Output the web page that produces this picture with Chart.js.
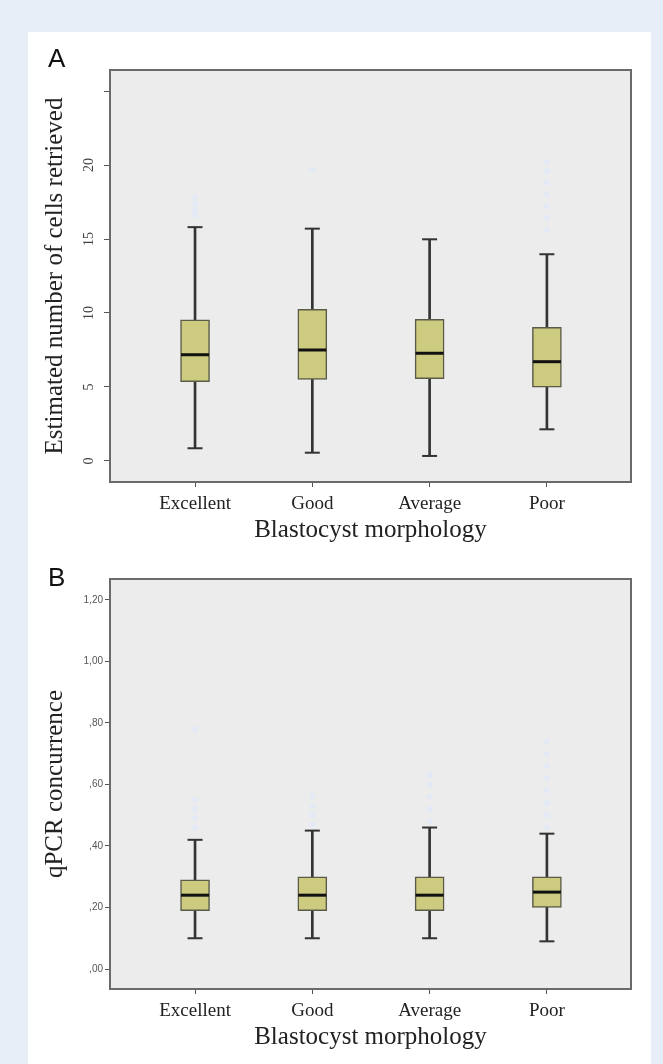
<!DOCTYPE html>
<html>
<head>
<meta charset="utf-8">
<script src="https://cdn.jsdelivr.net/npm/chart.js@4/dist/chart.umd.min.js"></script>
<style>
  html, body { margin: 0; padding: 0; }
  body { width: 663px; height: 1064px; background: #e7eef8; position: relative; overflow: hidden; }
  #panel { position: absolute; left: 28px; top: 32px; width: 623px; height: 1040px; background: #fff; }
  canvas { position: absolute; left: 28px; }
  #chartA { top: 32px; }
  #chartB { top: 557px; }
  .letter { position: absolute; left: 48px; font: 26px/1 "Liberation Sans", Arial, sans-serif; color: #111; }
</style>
</head>
<body>
<div id="panel"></div>
<canvas id="chartA" width="623" height="525"></canvas>
<canvas id="chartB" width="623" height="507"></canvas>
<div class="letter" style="top:45px">A</div>
<div class="letter" style="top:564px">B</div>
<script>
const SERIF = "'Liberation Serif', 'Times New Roman', serif";
const SANS = "'Liberation Sans', Arial, sans-serif";

const categories = ["Excellent", "Good", "Average", "Poor"];

// A: estimated number of cells retrieved
const cellsMin = [0.86, 0.56, 0.34, 2.14];
const cellsQ1 = [5.36, 5.52, 5.56, 4.98];
const cellsMedian = [7.18, 7.5, 7.28, 6.71];
const cellsQ3 = [9.53, 10.25, 9.57, 9.03];
const cellsMax = [15.8, 15.7, 14.98, 13.97];
const cellsOutliers = [[16.6, 17.0, 17.4, 17.8], [19.7], [], [15.6, 16.4, 17.2, 18.0, 18.8, 19.6, 20.2]];
const cellsTicks = [0, 5, 10, 15, 20, 25];

// B: qPCR concurrence
const qpcrMin = [0.10, 0.10, 0.10, 0.09];
const qpcrQ1 = [0.19, 0.19, 0.19, 0.20];
const qpcrMedian = [0.24, 0.24, 0.24, 0.25];
const qpcrQ3 = [0.29, 0.30, 0.30, 0.30];
const qpcrMax = [0.42, 0.45, 0.46, 0.44];
const qpcrOutliers = [[0.46, 0.49, 0.52, 0.55, 0.78], [0.47, 0.50, 0.53, 0.56], [0.48, 0.52, 0.56, 0.60, 0.63], [0.46, 0.50, 0.54, 0.58, 0.62, 0.66, 0.70, 0.74]];
const qpcrTicks = [0, 0.2, 0.4, 0.6, 0.8, 1.0, 1.2];

const plotFrame = {
  id: "plotFrame",
  beforeDraw(chart) {
    const { ctx, chartArea: a } = chart;
    ctx.save();
    ctx.fillStyle = "#ececec";
    ctx.fillRect(a.left, a.top, a.width, a.height);
    ctx.restore();
  },
  afterDraw(chart) {
    const { ctx, chartArea: a } = chart;
    ctx.save();
    ctx.strokeStyle = "#6a6a6a";
    ctx.lineWidth = 2;
    ctx.strokeRect(a.left, a.top, a.width, a.height);
    ctx.restore();
  },
};

const TICK_GRID = { drawOnChartArea: false, offset: false, tickLength: 6, color: "#555", lineWidth: 1 };

function boxChart(id, s) {
  const idx = categories.map((c, i) => i + 1);
  const caps = [];
  idx.forEach((x, i) => { caps.push({ x, y: s.min[i] }, { x, y: s.max[i] }); });
  const outliers = [];
  s.outliers.forEach((list, i) => list.forEach((v) => outliers.push({ x: i + 1, y: v })));

  return new Chart(document.getElementById(id), {
    type: "bar",
    data: {
      datasets: [
        {
          type: "line",
          data: idx.map((x, i) => ({ x, y: s.median[i] })),
          showLine: false,
          pointStyle: "line",
          pointRadius: 14,
          pointBorderWidth: 3,
          pointBorderColor: "#111",
          order: 0,
        },
        {
          type: "line",
          data: caps,
          showLine: false,
          pointStyle: "line",
          pointRadius: 7.5,
          pointBorderWidth: 2,
          pointBorderColor: "#333",
          order: 0,
        },
        {
          data: idx.map((x, i) => ({ x, y: [s.q1[i], s.q3[i]] })),
          backgroundColor: "#cccb80",
          borderColor: "#5b5a48",
          borderWidth: 1.5,
          borderSkipped: false,
          barThickness: 29,
          grouped: false,
          order: 1,
        },
        {
          data: idx.map((x, i) => ({ x, y: [s.min[i], s.max[i]] })),
          backgroundColor: "#333",
          borderWidth: 0,
          barThickness: 2,
          grouped: false,
          order: 2,
        },
        {
          type: "line",
          data: outliers,
          showLine: false,
          pointStyle: "circle",
          pointRadius: 3,
          pointBorderWidth: 0,
          pointBackgroundColor: "rgba(226,234,247,0.85)",
          order: 3,
        },
      ],
    },
    options: {
      responsive: false,
      devicePixelRatio: 1,
      animation: false,
      events: [],
      layout: { padding: { top: s.padTop, right: 20, left: 0, bottom: 0 } },
      plugins: { legend: { display: false }, tooltip: { enabled: false } },
      scales: {
        x: {
          type: "linear",
          min: 0.275,
          max: 4.717,
          offset: false,
          afterBuildTicks: (sc) => { sc.ticks = idx.map((v) => ({ value: v })); },
          afterFit: (sc) => { sc.height = 75; },
          ticks: {
            autoSkip: false,
            maxRotation: 0,
            padding: 6,
            color: "#222",
            font: { family: SERIF, size: 19 },
            callback: (v) => categories[v - 1],
          },
          grid: { ...TICK_GRID, tickLength: 5 },
          border: { display: false },
          title: {
            display: true,
            text: "Blastocyst morphology",
            color: "#222",
            font: { family: SERIF, size: 25 },
            padding: { bottom: 12 },
          },
        },
        y: {
          min: s.yMin,
          max: s.yMax,
          afterBuildTicks: (sc) => { sc.ticks = s.ticks.map((v) => ({ value: v })); },
          afterFit: (sc) => { sc.width = 82; },
          ticks: s.yTicks,
          grid: { ...TICK_GRID, tickLength: s.tickLength },
          border: { display: false },
          title: {
            display: true,
            text: s.title,
            color: "#222",
            font: { family: SERIF, size: 25 },
            padding: { top: 12 },
          },
        },
      },
    },
    plugins: [plotFrame],
  });
}

boxChart("chartA", {
  min: cellsMin, q1: cellsQ1, median: cellsMedian, q3: cellsQ3, max: cellsMax,
  outliers: cellsOutliers, ticks: cellsTicks,
  yMin: -1.42, yMax: 26.42, padTop: 38, tickLength: 6,
  title: "Estimated number of cells retrieved",
  yTicks: {
    minRotation: 90,
    crossAlign: "center",
    padding: 8,
    color: "#444",
    font: { family: SERIF, size: 14 },
    callback: (v) => (v === 25 ? "" : String(v)),
  },
});

boxChart("chartB", {
  min: qpcrMin, q1: qpcrQ1, median: qpcrMedian, q3: qpcrQ3, max: qpcrMax,
  outliers: qpcrOutliers, ticks: qpcrTicks,
  yMin: -0.065, yMax: 1.268, padTop: 22, tickLength: 5,
  title: "qPCR concurrence",
  yTicks: {
    padding: 2,
    color: "#555",
    font: { family: SANS, size: 10 },
    callback: (v) => {
      const t = v.toFixed(2).replace(".", ",");
      return t.startsWith("0") ? t.slice(1) : t;
    },
  },
});
</script>
</body>
</html>
